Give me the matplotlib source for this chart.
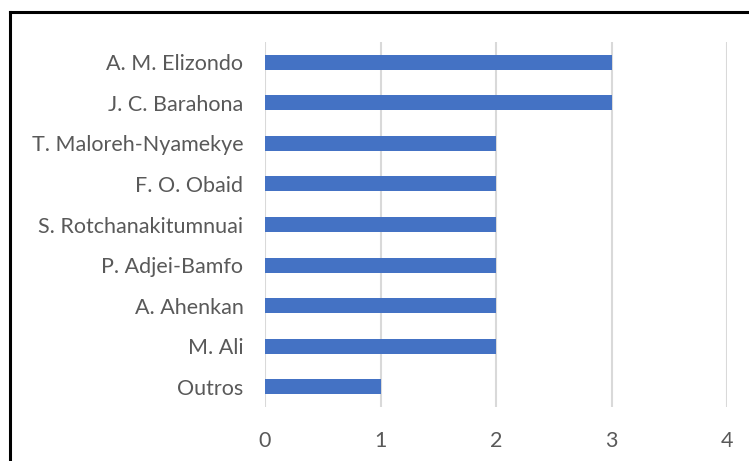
import matplotlib.pyplot as plt
from matplotlib.lines import Line2D

# authors and counts, top to bottom as shown
authors = ["A. M. Elizondo", "J. C. Barahona", "T. Maloreh-Nyamekye", "F. O. Obaid",
           "S. Rotchanakitumnuai", "P. Adjei-Bamfo", "A. Ahenkan", "M. Ali", "Outros"]
counts = [3, 3, 2, 2, 2, 2, 2, 2, 1]
xticks = [0, 1, 2, 3, 4]

plt.rcParams['font.family'] = ['Lato', 'DejaVu Sans']

W, H = 749, 461
fig = plt.figure(figsize=(W / 100, H / 100), dpi=100)
ax = fig.add_axes([265 / W, 1 - 407 / H, (727 - 265) / W, (407 - 42) / H])

ypos = list(range(len(authors)))[::-1]
ax.barh(ypos, counts, height=0.37, color="#4472C4", zorder=3)

ax.set_xlim(0, 4)
ax.set_ylim(-0.5, len(authors) - 0.5)
ax.set_xticks(xticks)
ax.set_yticks(ypos)
ax.set_yticklabels(authors)
ax.grid(axis="x", color="#D9D9D9", linewidth=1.5, zorder=0)
for s in ax.spines.values():
    s.set_visible(False)
ax.tick_params(axis="both", length=0, labelsize=15.5, labelcolor="#595959")
ax.tick_params(axis="x", pad=17)
ax.tick_params(axis="y", pad=15.5)

# outer chart border (left and top visible)
fig.add_artist(Line2D([10 / W, 10 / W], [0, 1 - 12 / H], color="black", lw=2.2, transform=fig.transFigure))
fig.add_artist(Line2D([10 / W, 1], [1 - 12 / H, 1 - 12 / H], color="black", lw=2.2, transform=fig.transFigure))

fig.savefig("out.png", dpi=100)
